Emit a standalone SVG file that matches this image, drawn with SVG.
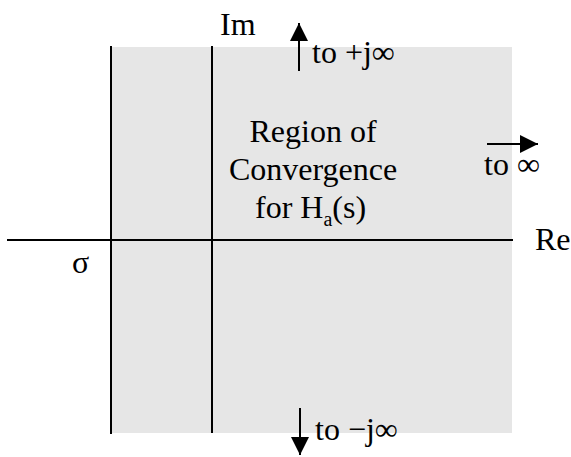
<svg xmlns="http://www.w3.org/2000/svg" width="571" height="457" viewBox="0 0 571 457">
<style>
text{font-family:"Liberation Serif","DejaVu Serif","Times New Roman",serif;font-size:32px;fill:#000}
.ax{stroke:#000;stroke-width:2;fill:none}
</style>
<defs>
<marker id="ahb" viewBox="0 0 10 10" refX="10" refY="5" markerWidth="18" markerHeight="18" markerUnits="userSpaceOnUse" orient="auto">
<path d="M0,0 L10,5 L0,10 z" fill="#000"/>
</marker>
</defs>
<g id="roc">
<rect x="111" y="47" width="401" height="386" fill="#e6e6e6"/>
<text x="313" y="142" text-anchor="middle" font-family="Liberation Serif, serif">Region of</text>
<text x="313" y="180" text-anchor="middle" font-family="Liberation Serif, serif">Convergence</text>
<text x="255" y="218" font-family="Liberation Serif, serif">for H<tspan font-size="20" dy="8">a</tspan><tspan dy="-8">(s)</tspan></text>
</g>
<g id="connectors">
<line class="ax" x1="111" y1="46" x2="111" y2="434"/>
<line class="ax" x1="212" y1="46" x2="212" y2="433"/>
<line class="ax" x1="7" y1="240" x2="513" y2="240"/>
<line class="ax" x1="299" y1="71" x2="299" y2="23" marker-end="url(#ahb)"/>
<line class="ax" x1="487" y1="144" x2="538" y2="144" marker-end="url(#ahb)"/>
<line class="ax" x1="300" y1="408" x2="300" y2="455" marker-end="url(#ahb)"/>
</g>
<g id="labels" font-family="Liberation Serif, serif">
<text x="220" y="35">Im</text>
<text x="312" y="63">to +j∞</text>
<text x="484" y="175">to ∞</text>
<text x="315" y="440">to −j∞</text>
<text x="535" y="250">Re</text>
<text x="72" y="273">σ</text>
</g>
</svg>
